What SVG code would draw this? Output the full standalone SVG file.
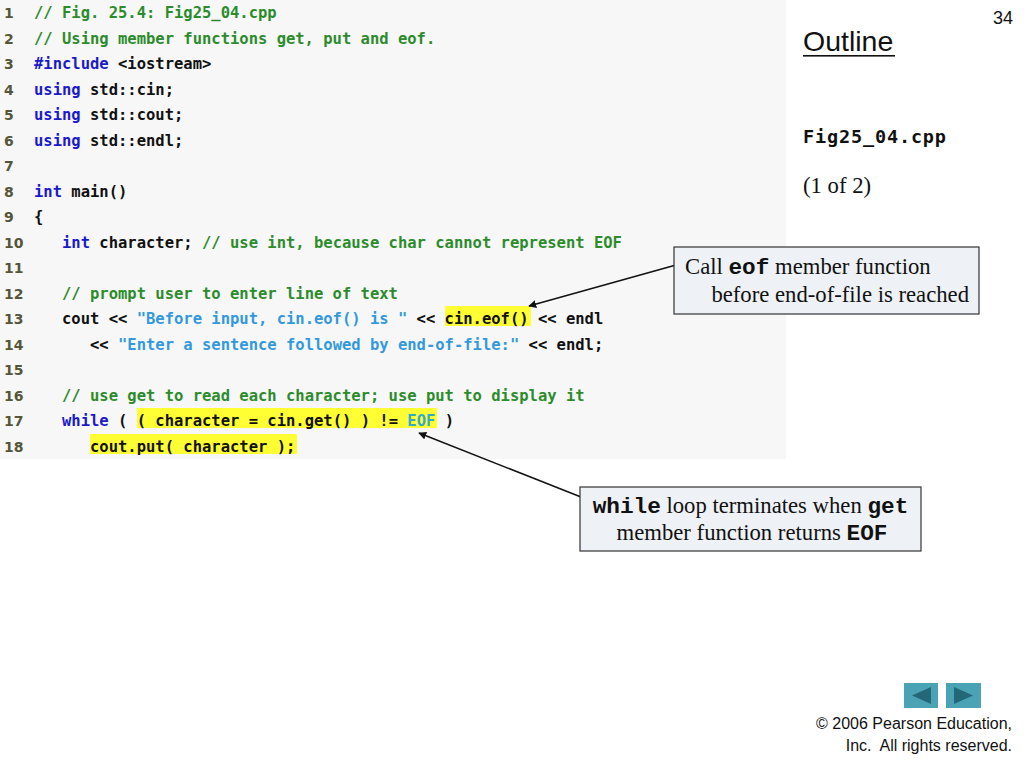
<svg xmlns="http://www.w3.org/2000/svg" width="1024" height="768" viewBox="0 0 1024 768">
<defs>
<style>
.code{font-family:"DejaVu Sans Mono","Liberation Mono",monospace;font-size:15.5px;font-weight:bold;fill:#111;white-space:pre;}
.ln{font-family:"DejaVu Sans","Liberation Sans",sans-serif;font-size:14px;font-weight:bold;fill:#55553a;}
.c{fill:#2c8c2c;}
.k{fill:#1a1acc;}
.s{fill:#3399dd;}
.e{fill:#33aacc;}
.hl{fill:#ffff33;}
.tm{font-family:"Liberation Serif","Times New Roman",serif;font-size:22.7px;fill:#111;}
.mono{font-family:"Liberation Mono","Courier New",monospace;font-weight:bold;}
.box{fill:#eef2f6;stroke:#333;stroke-width:1.2;}
.conn{stroke:#111;stroke-width:1.5;fill:none;marker-end:url(#ah);}
.sans{font-family:"Liberation Sans",Arial,sans-serif;fill:#111;}
</style>
<marker id="ah" viewBox="0 0 10 10" refX="9" refY="5" markerWidth="8" markerHeight="8" markerUnits="userSpaceOnUse" orient="auto">
<path d="M0,0 L10,5 L0,10 z" fill="#111"/>
</marker>
</defs>
<rect width="1024" height="768" fill="#ffffff"/>
<g id="code-listing">
<rect x="0" y="0" width="786" height="459" fill="#f7f7f7"/>
<rect class="hl" x="445" y="306" width="86" height="20"/>
<rect class="hl" x="137" y="408" width="300" height="20"/>
<rect class="hl" x="90" y="434" width="207" height="20"/>
<g class="ln">
<text x="4" y="18">1</text>
<text x="4" y="43.5">2</text>
<text x="4" y="69">3</text>
<text x="4" y="94.5">4</text>
<text x="4" y="120">5</text>
<text x="4" y="145.5">6</text>
<text x="4" y="171">7</text>
<text x="4" y="196.5">8</text>
<text x="4" y="222">9</text>
<text x="4" y="247.5">10</text>
<text x="4" y="273">11</text>
<text x="4" y="298.5">12</text>
<text x="4" y="324">13</text>
<text x="4" y="349.5">14</text>
<text x="4" y="375">15</text>
<text x="4" y="400.5">16</text>
<text x="4" y="426">17</text>
<text x="4" y="451.5">18</text>
</g>
<g class="code">
<text xml:space="preserve" x="34" y="18"><tspan class="c">// Fig. 25.4: Fig25_04.cpp</tspan></text>
<text xml:space="preserve" x="34" y="43.5"><tspan class="c">// Using member functions get, put and eof.</tspan></text>
<text xml:space="preserve" x="34" y="69"><tspan class="k">#include</tspan> &lt;iostream&gt;</text>
<text xml:space="preserve" x="34" y="94.5"><tspan class="k">using</tspan> std::cin;</text>
<text xml:space="preserve" x="34" y="120"><tspan class="k">using</tspan> std::cout;</text>
<text xml:space="preserve" x="34" y="145.5"><tspan class="k">using</tspan> std::endl;</text>
<text xml:space="preserve" x="34" y="196.5"><tspan class="k">int</tspan> main()</text>
<text xml:space="preserve" x="34" y="222">{</text>
<text xml:space="preserve" x="34" y="247.5">   <tspan class="k">int</tspan> character; <tspan class="c">// use int, because char cannot represent EOF</tspan></text>
<text xml:space="preserve" x="34" y="298.5">   <tspan class="c">// prompt user to enter line of text</tspan></text>
<text xml:space="preserve" x="34" y="324">   cout &lt;&lt; <tspan class="s">"Before input, cin.eof() is "</tspan> &lt;&lt; cin.eof() &lt;&lt; endl</text>
<text xml:space="preserve" x="34" y="349.5">      &lt;&lt; <tspan class="s">"Enter a sentence followed by end-of-file:"</tspan> &lt;&lt; endl;</text>
<text xml:space="preserve" x="34" y="400.5">   <tspan class="c">// use get to read each character; use put to display it</tspan></text>
<text xml:space="preserve" x="34" y="426">   <tspan class="k">while</tspan> ( ( character = cin.get() ) != <tspan class="e">EOF</tspan> )</text>
<text xml:space="preserve" x="34" y="451.5">      cout.put( character );</text>
</g>
</g>
<g id="header">
<text class="sans" x="1013" y="24" font-size="18" text-anchor="end">34</text>
<text class="sans" x="803" y="51" font-size="28.5">Outline</text>
<rect x="803" y="55" width="92" height="1.6" fill="#111"/>
<text x="803" y="143" font-family="DejaVu Sans Mono,monospace" font-weight="bold" font-size="18.5" fill="#111" textLength="143" lengthAdjust="spacing">Fig25_04.cpp</text>
<text class="tm" x="803" y="193" font-size="21">(1 of 2)</text>
</g>
<g id="connectors">
<line class="conn" x1="676" y1="265" x2="529" y2="306"/>
<line class="conn" x1="581" y1="497" x2="419" y2="433"/>
</g>
<g id="callout-eof">
<rect class="box" x="674" y="247" width="305" height="67"/>
<text class="tm" x="685" y="274">Call <tspan class="mono">eof</tspan> member function</text>
<text class="tm" x="969" y="302" text-anchor="end">before end-of-file is reached</text>
</g>
<g id="callout-while">
<rect class="box" x="580" y="487" width="341" height="64"/>
<text class="tm" x="750.5" y="513" text-anchor="middle"><tspan class="mono">while</tspan> loop terminates when <tspan class="mono">get</tspan></text>
<text class="tm" x="752" y="540" text-anchor="middle">member function returns <tspan class="mono">EOF</tspan></text>
</g>
<g id="nav">
<rect x="904" y="683" width="34" height="25" fill="#4aa3b5"/>
<path d="M912,695.5 L931,687 L931,704 z" fill="#236878"/>
<rect x="946" y="683" width="35" height="25" fill="#4aa3b5"/>
<path d="M973,695.5 L954,687 L954,704 z" fill="#236878"/>
</g>
<g id="footer">
<text class="sans" x="1012" y="729" font-size="16" text-anchor="end">© 2006 Pearson Education,</text>
<text class="sans" x="1012" y="751" font-size="16" text-anchor="end" xml:space="preserve">Inc.  All rights reserved.</text>
</g>
</svg>
